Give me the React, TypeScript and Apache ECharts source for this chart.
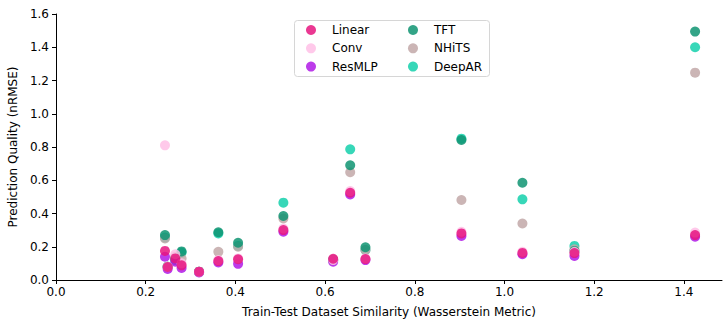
import React, { useEffect, useRef } from "react";
import * as echarts from "echarts";

const xVals = [0.243, 0.249, 0.266, 0.28, 0.319, 0.362, 0.406, 0.507, 0.618, 0.656, 0.69, 0.904, 1.04, 1.156, 1.425];

const linear = [0.175, 0.078, 0.13, 0.088, 0.05, 0.114, 0.125, 0.3, 0.128, 0.525, 0.126, 0.28, 0.163, 0.162, 0.27];
const conv = [0.81, 0.08, 0.155, 0.1, 0.05, 0.12, 0.13, 0.31, 0.12, 0.535, 0.13, 0.29, 0.17, 0.17, 0.285];
const resmlp = [0.14, 0.066, 0.11, 0.072, 0.045, 0.105, 0.097, 0.29, 0.11, 0.515, 0.12, 0.265, 0.155, 0.145, 0.26];
const tft = [0.27, 0.08, 0.12, 0.172, 0.05, 0.287, 0.224, 0.385, 0.12, 0.69, 0.197, 0.842, 0.585, 0.175, 1.494];
const nhits = [0.25, 0.08, 0.14, 0.13, 0.05, 0.17, 0.2, 0.37, 0.12, 0.648, 0.18, 0.481, 0.34, 0.185, 1.247];
const deepar = [0.255, 0.08, 0.13, 0.165, 0.05, 0.28, 0.205, 0.465, 0.12, 0.786, 0.18, 0.85, 0.485, 0.205, 1.4];

const xTicks = [0, 0.2, 0.4, 0.6, 0.8, 1.0, 1.2, 1.4];

const colors: Record<string, string> = {
  Linear: "#e6157f",
  Conv: "#ffbfe6",
  ResMLP: "#b01ae6",
  TFT: "#0f9472",
  NHiTS: "#c2a8a8",
  DeepAR: "#14d0ac",
};

const seriesData: [string, number[]][] = [
  ["DeepAR", deepar],
  ["NHiTS", nhits],
  ["TFT", tft],
  ["ResMLP", resmlp],
  ["Conv", conv],
  ["Linear", linear],
];

const FONT = "DejaVu Sans";

export default function App() {
  const ref = useRef<HTMLDivElement>(null);
  useEffect(() => {
    const chart = echarts.init(ref.current!, null, { renderer: "svg" });
    const legendCommon = {
      orient: "vertical" as const,
      itemWidth: 32,
      itemHeight: 10,
      itemGap: 4.3,
      icon: "circle",
      textStyle: { fontFamily: FONT, fontSize: 12, color: "#000", lineHeight: 14 },
      top: 18,
      z: 5,
    };
    chart.setOption({
      animation: false,
      backgroundColor: "#fff",
      textStyle: { fontFamily: FONT },
      grid: { left: 56, right: 1, top: 14, bottom: 39, outerBoundsMode: "none", containLabel: false },
      graphic: [
        {
          type: "rect",
          shape: { x: 294.5, y: 20.5, width: 195, height: 56, r: 3 },
          style: { fill: "#fff", stroke: "#d6d6d6", lineWidth: 1 },
          z: 4,
        },
      ],
      legend: [
        { ...legendCommon, left: 301, data: ["Linear", "Conv", "ResMLP"] },
        { ...legendCommon, left: 403, data: ["TFT", "NHiTS", "DeepAR"] },
      ],
      xAxis: {
        type: "value",
        min: 0,
        max: 1.485,
        interval: 0.2,
        name: "Train-Test Dataset Similarity (Wasserstein Metric)",
        nameLocation: "middle",
        nameGap: 26,
        nameTextStyle: { fontFamily: FONT, fontSize: 12, color: "#000" },
        splitLine: { show: false },
        axisLine: { show: true, lineStyle: { color: "#000", width: 1 } },
        axisTick: { show: true, length: 4, lineStyle: { color: "#000" }, customValues: xTicks },
        axisLabel: {
          fontFamily: FONT,
          fontSize: 12,
          color: "#000",
          margin: 6,
          customValues: xTicks,
          formatter: (v: number) => v.toFixed(1),
        },
      },
      yAxis: {
        type: "value",
        min: 0,
        max: 1.6,
        interval: 0.2,
        name: "Prediction Quality (nRMSE)",
        nameLocation: "middle",
        nameGap: 29,
        nameTextStyle: { fontFamily: FONT, fontSize: 12, color: "#000" },
        splitLine: { show: false },
        axisLine: { show: true, lineStyle: { color: "#000", width: 1 } },
        axisTick: { show: true, length: 4, lineStyle: { color: "#000" } },
        axisLabel: {
          fontFamily: FONT,
          fontSize: 12,
          color: "#000",
          margin: 7,
          formatter: (v: number) => v.toFixed(1),
        },
      },
      series: seriesData.map(([name, vals]) => ({
        name,
        type: "scatter",
        symbolSize: 10,
        data: xVals.map((x, i) => [x, vals[i]]),
        itemStyle: { color: colors[name], opacity: 0.85 },
      })),
    });
    return () => chart.dispose();
  }, []);
  return (
    <div
      ref={ref}
      style={{ position: "fixed", left: 0, top: 0, width: 723, height: 319 }}
    />
  );
}
